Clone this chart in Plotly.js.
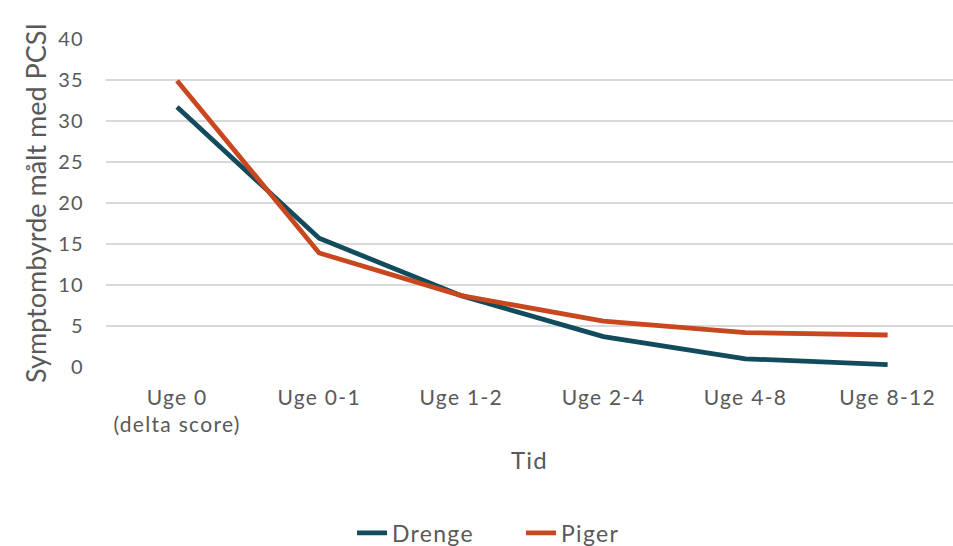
<!DOCTYPE html>
<html>
<head>
<meta charset="utf-8">
<script src="https://cdn.plot.ly/plotly-3.0.1.min.js"></script>
<style>
html,body{margin:0;padding:0;background:#fff;}
#chart{width:953px;height:546px;}
#chart text{letter-spacing:1.3px;}
#chart .g-ytitle text{letter-spacing:0;}
</style>
</head>
<body>
<div id="chart"></div>
<script>
const categories = ["Uge 0<br>(delta score)", "Uge 0-1", "Uge 1-2", "Uge 2-4", "Uge 4-8", "Uge 8-12"];
const drenge = [31.7, 15.7, 8.7, 3.7, 1.0, 0.3];
const piger = [34.9, 13.9, 8.7, 5.6, 4.2, 3.9];
const yTicks = [0, 5, 10, 15, 20, 25, 30, 35, 40];

const font = "Lato, 'Open Sans', sans-serif";
const grey = "#595959";

const traces = [
  {x: categories, y: drenge, name: "Drenge", type: "scatter", mode: "lines",
   line: {color: "#124b5b", width: 4.8}},
  {x: categories, y: piger, name: "Piger", type: "scatter", mode: "lines",
   line: {color: "#c8471f", width: 4.8}}
];

const layout = {
  width: 953, height: 546,
  margin: {l: 106, r: 0, t: 39, b: 179, autoexpand: false},
  paper_bgcolor: "#fff", plot_bgcolor: "#fff",
  font: {family: font, color: grey, size: 20},
  showlegend: true,
  legend: {orientation: "h", x: 0.49, xanchor: "center", y: -0.506, yanchor: "middle",
           entrywidth: 124, font: {family: font, size: 23, color: grey}, traceorder: "normal"},
  xaxis: {type: "category", range: [-0.5, 5.46], showgrid: false, zeroline: false,
          showline: false, ticks: "", ticklabelstandoff: 16,
          tickfont: {family: font, size: 21, color: grey},
          title: {text: "Tid", font: {family: font, size: 24, color: grey}, standoff: 16}},
  yaxis: {range: [0, 40], tickvals: yTicks, showgrid: true, gridcolor: "#d9d9d9", gridwidth: 1.3,
          zeroline: false, showline: false, ticks: "", ticklabelstandoff: 21,
          tickfont: {family: font, size: 20, color: grey},
          title: {text: "Symptombyrde målt med PCSI", font: {family: font, size: 27, color: grey}, standoff: 6}}
};

Plotly.newPlot("chart", traces, layout, {displayModeBar: false, staticPlot: true});
</script>
</body>
</html>
